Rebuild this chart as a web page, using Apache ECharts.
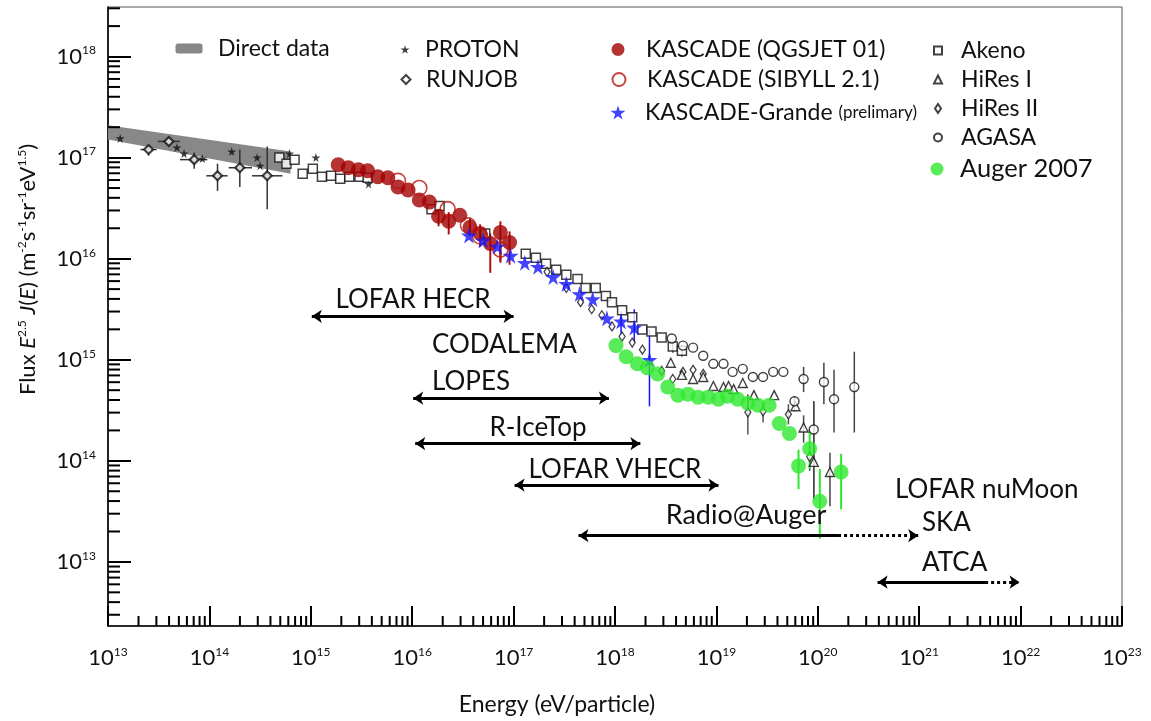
<!DOCTYPE html>
<html><head><meta charset="utf-8">
<script src="https://cdn.jsdelivr.net/npm/echarts@6/dist/echarts.min.js"></script>
<style>html,body{margin:0;padding:0;background:#fff}#c{width:1151px;height:721px}</style>
</head><body><div id="c"></div>
<script>
// All values are read off the picture, stored as log10 values:
// [log10(E / eV), log10(flux E^2.5 J(E))]
const xTickExps = [13, 14, 15, 16, 17, 18, 19, 20, 21, 22, 23];
const yTickExps = [13, 14, 15, 16, 17, 18];

// Direct data band: [logE, lower, upper]
const directBand = [[13.00, 17.18, 17.32], [14.80, 16.84, 17.06]];

const proton = [[13.12,17.19],[13.68,17.10],[13.75,17.04],[13.93,16.99],[14.22,17.06],[14.47,17.00],[14.50,16.92],[14.79,17.04],[15.05,17.00],[15.57,16.74]];

const runjob = [[13.40,17.08],[13.60,17.16],[13.85,16.98],[14.08,16.82],[14.30,16.90],[14.57,16.82]];
const runjobErrE = [[13.32,13.48,17.08],[13.49,13.71,17.16],[13.71,13.98,16.98],[13.97,14.18,16.82],[14.19,14.42,16.90],[14.42,14.72,16.82]];
const runjobErrF = [[13.40,17.02,17.12],[13.60,17.11,17.20],[13.85,16.89,17.05],[14.08,16.67,16.94],[14.30,16.71,17.08],[14.57,16.49,17.11]];

const akeno = [[14.69,17.00],[14.76,16.94],[14.84,16.98],[14.92,16.84],[15.02,16.89],[15.11,16.81],[15.20,16.82],[15.29,16.79],[15.38,16.81],[15.48,16.81],[15.56,16.80],[16.19,16.49],[16.27,16.52],[16.72,16.25],[17.12,16.05],[17.22,16.01],[17.32,15.95],[17.42,15.89],[17.52,15.84],[17.63,15.80],[17.71,15.71],[17.81,15.71],[17.91,15.63],[17.97,15.57],[18.07,15.49],[18.17,15.42],[18.27,15.30],[18.36,15.28],[18.46,15.22],[18.57,15.13],[18.66,15.09]];
const akenoErr = [[18.57,15.07,15.19],[18.66,15.03,15.15]];

const kascadeQ = [[15.27,16.93],[15.37,16.90],[15.47,16.88],[15.56,16.87],[15.66,16.81],[15.76,16.80],[15.86,16.71],[15.96,16.68],[16.07,16.58],[16.17,16.56],[16.26,16.42],[16.36,16.37],[16.47,16.43],[16.57,16.31],[16.67,16.25],[16.77,16.15],[16.87,16.26],[16.96,16.16]];
const kascadeQErr = [[16.26,16.32,16.49],[16.36,16.24,16.46],[16.57,16.22,16.40],[16.67,16.12,16.34],[16.77,15.86,16.25],[16.87,15.96,16.37],[16.96,15.94,16.27]];

const kascadeS = [[15.86,16.77],[16.07,16.70],[16.35,16.49],[16.55,16.33],[16.67,16.22],[16.87,16.09]];
const kascadeSErr = [[16.87,15.98,16.20]];

const grande = [[16.56,16.23],[16.70,16.18],[16.84,16.12],[16.97,16.03],[17.11,15.96],[17.24,15.92],[17.39,15.82],[17.52,15.75],[17.65,15.65],[17.78,15.60],[17.92,15.41],[18.06,15.38],[18.19,15.32],[18.34,15.00]];
const grandeErr = [[18.06,15.25,15.48],[18.19,15.17,15.50],[18.34,14.54,15.30]];

const hires1 = [[18.55,14.97],[18.66,14.85],[18.77,14.81],[18.87,14.83],[18.97,14.74],[19.07,14.73],[19.12,14.74],[19.17,14.71],[19.26,14.77],[19.37,14.65],[19.57,14.65],[19.78,14.54],[19.86,14.33],[19.96,13.99],[20.12,13.89]];
const hires1Err = [[19.86,14.18,14.45],[19.96,13.62,14.59],[20.12,13.55,14.08]];

const hires2 = [[17.33,15.87],[17.52,15.71],[17.66,15.57],[17.77,15.50],[17.87,15.44],[17.97,15.33],[18.07,15.23],[18.17,15.17],[18.27,15.10],[18.46,14.89],[18.57,14.81],[18.67,14.88],[18.77,14.90],[18.87,14.86],[19.31,14.48],[19.46,14.49],[19.71,14.46],[19.92,14.04]];
const hires2Err = [[19.31,14.26,14.66],[19.46,14.38,14.58],[19.71,14.36,14.56],[19.92,13.90,14.20]];

const agasa = [[18.56,15.21],[18.67,15.14],[18.77,15.12],[18.87,15.04],[18.97,14.96],[19.07,14.96],[19.16,14.88],[19.26,14.91],[19.36,14.83],[19.46,14.83],[19.56,14.88],[19.66,14.88],[19.77,14.59],[19.86,14.81],[19.96,14.31],[20.06,14.78],[20.16,14.61],[20.36,14.73]];
const agasaErr = [[19.77,14.49,14.64],[19.86,14.68,14.93],[19.96,13.62,14.59],[20.06,14.56,14.97],[20.16,14.28,14.90],[20.36,14.28,15.08]];

const auger = [[18.01,15.14],[18.11,15.03],[18.22,14.96],[18.32,14.92],[18.42,14.86],[18.52,14.73],[18.62,14.65],[18.72,14.66],[18.82,14.63],[18.92,14.63],[19.02,14.61],[19.11,14.64],[19.21,14.61],[19.31,14.57],[19.41,14.55],[19.52,14.55],[19.62,14.37],[19.72,14.27],[19.81,13.95],[19.92,14.12],[20.02,13.60],[20.23,13.89]];
const augerErr = [[19.81,13.72,14.11],[19.92,13.92,14.31],[20.02,13.23,13.92],[20.23,13.52,14.07]];

// Energy ranges of the radio experiments: [from, to, flux level]
const rangeNames = ['LOFAR HECR', 'LOPES', 'R-IceTop', 'LOFAR VHECR'];
const rangeFrom = [15.01, 16.01, 16.03, 17.01];
const rangeTo = [17.00, 17.94, 18.25, 19.02];
const rangeLevel = [15.43, 14.62, 14.17, 13.76];
// Ranges with a dotted (future) extension
const extNames = ['Radio@Auger', 'ATCA'];
const extFrom = [17.64, 20.59];
const extSolidTo = [20.20, 21.65];
const extTo = [20.99, 21.99];
const extLevel = [13.26, 12.80];

const xMin = 13, xMax = 23, yMin = 12.366, yMax = 18.49;

const FONT = 'Lato, "Open Sans", "DejaVu Sans", sans-serif';
const STAR = 'path://M50,0 L61,35 L98,35 L68,57 L79,91 L50,70 L21,91 L32,57 L2,35 L39,35 Z';

// logarithmic minor ticks (2..9 x 10^n)
const minorX = [], minorY = [];
for (let n = 12; n <= 22; n++) for (let k = 2; k <= 9; k++) {
  const v = n + Math.log10(k);
  if (v > xMin && v < xMax) minorX.push(v);
  if (v > yMin && v < yMax) minorY.push(v);
}

function vErr(data, color, w) {
  return { type: 'custom', data, silent: true, z: 3, encode: { x: 0, y: [1, 2] },
    renderItem(params, api) {
      const a = api.coord([api.value(0), api.value(1)]);
      const b = api.coord([api.value(0), api.value(2)]);
      return { type: 'line', shape: { x1: a[0], y1: a[1], x2: b[0], y2: b[1] }, style: { stroke: color, lineWidth: w } };
    } };
}
function hErr(data, color, w) {
  return { type: 'custom', data, silent: true, z: 3, encode: { x: [0, 1], y: 2 },
    renderItem(params, api) {
      const a = api.coord([api.value(0), api.value(2)]);
      const b = api.coord([api.value(1), api.value(2)]);
      return { type: 'line', shape: { x1: a[0], y1: a[1], x2: b[0], y2: b[1] }, style: { stroke: color, lineWidth: w } };
    } };
}
// minor tick marks along an axis edge, positioned through the axis scale
function minorTicks(name, values, dir, len) {
  const data = values.map(v => dir === 'x' ? [v, yMin] : [xMin, v]);
  return { type: 'custom', name, data, z: 20, clip: false, encode: { x: 0, y: 1 },
    renderItem(params, api) {
      const p = api.coord([api.value(0), api.value(1)]);
      const shape = dir === 'x' ? { x1: p[0], y1: p[1], x2: p[0], y2: p[1] - len } : { x1: p[0], y1: p[1], x2: p[0] + len, y2: p[1] };
      return { type: 'line', shape, style: { stroke: '#000', lineWidth: 2 } };
    } };
}
function sc(name, data, symbol, size, itemStyle, z) {
  return { type: 'scatter', name, data, symbol, symbolSize: size, itemStyle, z, silent: true };
}
// legend entry: icon centred at iconCx, text starting at textX, text line centred at cy
function leg(name, iconCx, textX, cy, w, h, fs, formatter, rich) {
  const left = iconCx - w / 2;
  const o = { data: [name], left, top: cy - 12, itemWidth: w, itemHeight: h, padding: 0,
    orient: 'vertical', selectedMode: false,
    textStyle: { fontSize: fs, fontFamily: FONT, color: '#111', padding: [0, 0, 0, textX - (left + w + 5)] } };
  if (formatter) o.formatter = formatter;
  if (rich) o.textStyle.rich = rich;
  return o;
}

const sup = (fs) => ({ fontSize: fs, fontFamily: FONT, color: '#111', padding: [0, 0, Math.round(fs * 1.0), 0] });

const annotations = [
  { type: 'text', x: 413, y: 300, z: 100, style: { text: 'LOFAR HECR', fontSize: 26, fontFamily: FONT, fill: '#111', align: 'center', verticalAlign: 'middle' } },
  { type: 'text', x: 432, y: 345, z: 100, style: { text: 'CODALEMA', fontSize: 26, fontFamily: FONT, fill: '#111', align: 'left', verticalAlign: 'middle' } },
  { type: 'text', x: 432, y: 382, z: 100, style: { text: 'LOPES', fontSize: 26, fontFamily: FONT, fill: '#111', align: 'left', verticalAlign: 'middle' } },
  { type: 'text', x: 538, y: 428, z: 100, style: { text: 'R-IceTop', fontSize: 26, fontFamily: FONT, fill: '#111', align: 'center', verticalAlign: 'middle' } },
  { type: 'text', x: 615, y: 470, z: 100, style: { text: 'LOFAR VHECR', fontSize: 26, fontFamily: FONT, fill: '#111', align: 'center', verticalAlign: 'middle' } },
  { type: 'text', x: 746, y: 515, z: 100, style: { text: 'Radio@Auger', fontSize: 27, fontFamily: FONT, fill: '#111', align: 'center', verticalAlign: 'middle' } },
  { type: 'text', x: 895, y: 490, z: 100, style: { text: 'LOFAR nuMoon', fontSize: 26, fontFamily: FONT, fill: '#111', align: 'left', verticalAlign: 'middle' } },
  { type: 'text', x: 922, y: 523, z: 100, style: { text: 'SKA', fontSize: 26, fontFamily: FONT, fill: '#111', align: 'left', verticalAlign: 'middle' } },
  { type: 'text', x: 922, y: 563, z: 100, style: { text: 'ATCA', fontSize: 26, fontFamily: FONT, fill: '#111', align: 'left', verticalAlign: 'middle' } }
];

const option = {
  animation: false,
  backgroundColor: '#fff',
  grid: { left: 108, right: 29, top: 7, bottom: 94, show: true, borderColor: '#555', borderWidth: 1 },
  xAxis: {
    type: 'value', min: xMin, max: xMax, position: 'bottom',
    name: 'Energy (eV/particle)', nameLocation: 'middle', nameGap: 67,
    nameTextStyle: { fontSize: 23, fontFamily: FONT, color: '#111', padding: [0, 116, 0, 0] },
    axisLine: { lineStyle: { color: '#000', width: 1.6 } },
    axisTick: { show: true, inside: true, length: 20, customValues: xTickExps, lineStyle: { color: '#000', width: 2 } },
    axisLabel: { customValues: xTickExps, margin: 20, formatter: v => '{b|10}{s|' + v + '}',
      rich: { b: { fontSize: 22, fontFamily: FONT, color: '#111' }, s: sup(12) } },
    splitLine: { show: false } },
  yAxis: {
    type: 'value', min: yMin, max: yMax, position: 'left',
    name: 'Flux {i|E}{s|2.5} {i|J}({i|E}) (m{s|-2}s{s|-1}sr{s|-1}eV{s|1.5})', nameLocation: 'middle', nameGap: 68,
    nameTextStyle: { fontSize: 22, fontFamily: FONT, color: '#111', padding: [0, 0, 0, 94],
      rich: { i: { fontSize: 22, fontStyle: 'italic', fontFamily: FONT, color: '#111' }, s: sup(12) } },
    axisLine: { lineStyle: { color: '#000', width: 1.6 } },
    axisTick: { show: true, inside: true, length: 23, customValues: yTickExps, lineStyle: { color: '#000', width: 2 } },
    axisLabel: { customValues: yTickExps, margin: 12, formatter: v => '{b|10}{s|' + v + '}',
      rich: { b: { fontSize: 22, fontFamily: FONT, color: '#111' }, s: sup(12) } },
    splitLine: { show: false } },
  legend: [
    leg('Direct data', 189, 218, 49, 27, 10, 23),
    leg('PROTON', 405, 425, 50, 9, 9, 23),
    leg('RUNJOB', 405, 425, 80, 9, 9, 23),
    leg('KASCADE (QGSJET 01)', 618, 646, 50, 13, 13, 23),
    leg('KASCADE (SIBYLL 2.1)', 618, 646, 80, 13, 13, 23),
    leg('KASCADE-Grande', 618, 645, 113, 15, 15, 23, n => n + ' {p|(prelimary)}',
      { p: { fontSize: 17, fontFamily: FONT, color: '#111' } }),
    leg('Akeno', 937, 960, 51, 8, 8, 23),
    leg('HiRes I', 937, 960, 80, 8, 8, 23),
    leg('HiRes II', 937, 960, 109, 6, 9, 23),
    leg('AGASA', 937, 960, 138, 8, 8, 23),
    leg('Auger 2007', 937, 960, 168, 13, 13, 25.5)
  ],
  series: [
    { type: 'custom', name: 'Direct data', data: directBand, encode: { x: 0, y: [1, 2] }, silent: true, z: 1,
      itemStyle: { color: '#888' },
      renderItem(params, api) {
        if (params.dataIndex !== 0) return null;
        const pts = [];
        directBand.forEach(r => pts.push(api.coord([r[0], r[2]])));
        directBand.slice().reverse().forEach(r => pts.push(api.coord([r[0], r[1]])));
        return { type: 'polygon', shape: { points: pts }, style: { fill: '#888' } };
      } },
    hErr(runjobErrE, '#333', 1.5),
    vErr(runjobErrF, '#333', 1.5),
    sc('PROTON', proton, STAR, 9, { color: '#111' }, 5),
    sc('RUNJOB', runjob, 'diamond', 9, { color: '#fff', borderColor: '#111', borderWidth: 2.2 }, 5),
    vErr(akenoErr, '#333', 1.3),
    sc('Akeno', akeno, 'rect', 9, { color: '#fff', borderColor: '#111', borderWidth: 1.5 }, 5),
    vErr(hires2Err, '#555', 1.5),
    sc('HiRes II', hires2, 'diamond', [6, 9], { color: '#fff', borderColor: '#111', borderWidth: 1.3 }, 5),
    vErr(hires1Err, '#444', 1.5),
    sc('HiRes I', hires1, 'triangle', 9, { color: '#fff', borderColor: '#111', borderWidth: 1.4 }, 5),
    vErr(agasaErr, '#444', 1.5),
    sc('AGASA', agasa, 'circle', 9, { color: '#fff', borderColor: '#111', borderWidth: 1.4 }, 5),
    vErr(kascadeQErr, '#b01010', 2),
    vErr(kascadeSErr, '#b01010', 2),
    sc('KASCADE (QGSJET 01)', kascadeQ, 'circle', 15, { color: '#a30000' }, 6),
    sc('KASCADE (SIBYLL 2.1)', kascadeS, 'circle', 15, { color: 'rgba(255,255,255,0)', borderColor: '#b51515', borderWidth: 1.6 }, 7),
    vErr(grandeErr, '#1515ff', 1.5),
    sc('KASCADE-Grande', grande, STAR, 16, { color: '#1515ff' }, 8),
    vErr(augerErr, '#2ee82e', 2),
    sc('Auger 2007', auger, 'circle', 15, { color: '#2ee82e' }, 8),
    { type: 'lines', coordinateSystem: 'cartesian2d', silent: true, z: 9,
      symbol: ['arrow', 'arrow'], symbolSize: 10,
      lineStyle: { color: '#000', width: 3, opacity: 1 },
      data: rangeNames.map((n, i) => ({ name: n, coords: [[rangeFrom[i], rangeLevel[i]], [rangeTo[i], rangeLevel[i]]] })) },
    { type: 'lines', coordinateSystem: 'cartesian2d', silent: true, z: 9,
      symbol: ['arrow', 'none'], symbolSize: 10,
      lineStyle: { color: '#000', width: 3, opacity: 1 },
      data: extNames.map((n, i) => ({ name: n, coords: [[extFrom[i], extLevel[i]], [extSolidTo[i], extLevel[i]]] })) },
    { type: 'lines', coordinateSystem: 'cartesian2d', silent: true, z: 9,
      symbol: ['none', 'arrow'], symbolSize: 10,
      lineStyle: { color: '#000', width: 3, type: 'dotted', opacity: 1 },
      data: extNames.map((n, i) => ({ name: n, coords: [[extSolidTo[i], extLevel[i]], [extTo[i], extLevel[i]]] })) },
    minorTicks('minor ticks E', minorX, 'x', 10),
    minorTicks('minor ticks flux', minorY, 'y', 12)
  ],
  graphic: annotations
};

const chart = echarts.init(document.getElementById('c'), null, { renderer: 'canvas' });
chart.setOption(option);
</script>
</body></html>
